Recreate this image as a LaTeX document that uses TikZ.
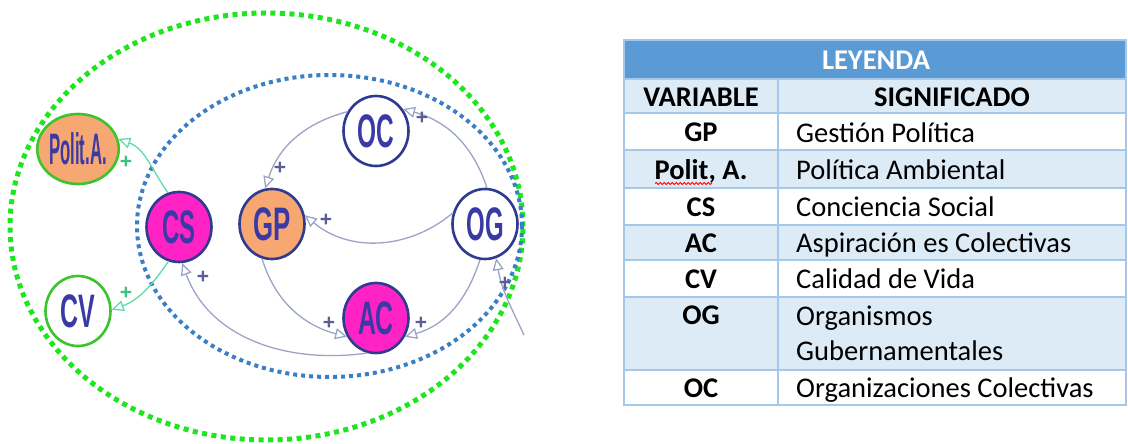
\documentclass[tikz,border=0pt]{standalone}
\usepackage{fontspec}
\setmainfont{Carlito}
\newfontfamily\nodefont{Liberation Sans}
\usetikzlibrary{shapes.geometric,arrows.meta,decorations.pathmorphing}
\definecolor{nodeblue}{HTML}{2E3B8E}
\definecolor{txtblue}{HTML}{3A3AA5}
\definecolor{magentafill}{HTML}{FF22C4}
\definecolor{orangefill}{HTML}{F7A872}
\definecolor{grnborder}{HTML}{3CC42C}
\definecolor{arrowgray}{HTML}{9CA3C6}
\definecolor{mint}{HTML}{5EDCA8}
\definecolor{dotgreen}{HTML}{1EE61E}
\definecolor{dotblue}{HTML}{3A7EC6}
\definecolor{hdrblue}{HTML}{5B9BD5}
\definecolor{rowblue}{HTML}{DDEBF7}
\definecolor{gridblue}{HTML}{A5C8EA}
\definecolor{plusc}{HTML}{5A5E95}
\definecolor{plusg}{HTML}{3DBF80}
\newcommand\condtxt[2]{\scalebox{#1}[1]{#2}}
\begin{document}
\begin{tikzpicture}[x=1pt,y=1pt,
  var/.style={ellipse, minimum width=65pt, minimum height=70pt, inner sep=0pt,
    line width=2.6pt, draw=nodeblue, text=txtblue,
    font=\nodefont\bfseries\fontsize{47}{47}\selectfont},
  gvar/.style={var, draw=grnborder},
  arr/.style={draw=arrowgray, line width=1.3pt, -{Triangle[open,length=12pt,width=11pt]}},
  garr/.style={draw=mint, line width=1.3pt, -{Triangle[open,length=12pt,width=11pt]}},
  plus/.style={text=plusc, font=\nodefont\bfseries\fontsize{21}{21}\selectfont, inner sep=0pt},
  gplus/.style={plus, text=plusg},
  vtxt/.style={anchor=base, inner sep=0pt, font=\bfseries\fontsize{28.5}{34.5}\selectfont},
  stxt/.style={anchor=base west, inner sep=0pt, font=\fontsize{28.5}{34.5}\selectfont},
  grid/.style={draw=gridblue, line width=1.5pt}
]
\useasboundingbox (0,0) rectangle (1128,444);

% dotted ellipses
\draw[dotgreen, line width=5pt, dash pattern=on 5pt off 4.5pt] (266.5,217.5) ellipse[x radius=256.5, y radius=213.5];
\draw[dotblue, line width=4pt, dash pattern=on 4pt off 4pt] (329.5,218) ellipse[x radius=192.5, y radius=151];

% variable nodes
\node[gvar, fill=orangefill, font=\nodefont\bfseries\fontsize{44}{44}\selectfont] (PA) at (78,295) {\condtxt{0.38}{Polit.A.}};
\node[gvar, fill=white] (CV) at (78,133) {\condtxt{0.53}{CV}};
\node[var, fill=magentafill] (CS) at (179,217) {\condtxt{0.51}{CS}};
\node[var, fill=orangefill] (GP) at (272,220) {\condtxt{0.55}{GP}};
\node[var, fill=white] (OC) at (376,313) {\condtxt{0.52}{OC}};
\node[var, fill=white] (OG) at (485,220) {\condtxt{0.51}{OG}};
\node[var, fill=magentafill] (AC) at (376,126) {\condtxt{0.53}{AC}};

% connectors
\draw[arr] (OG.87) to[out=108,in=-15] (OC.39);
\draw[arr] (OC.146) to[out=195,in=72] (GP.101);
\draw[arr] (GP.254) to[out=287,in=165] (AC.213);
\draw[arr] (OG.262) to[out=252,in=16] (AC.327);
\draw[arr] (OG.161) to[out=220,in=-40] (GP.15);
\draw[arr] (AC.256) to[out=188,in=-70] (CS.275);
\coordinate (ext) at (524,109);
\draw[arr] (ext) to[out=115,in=-80] (OG.288);
\draw[garr] (CS.108) to[out=125,in=-20] (PA.14);
\draw[garr] (CS.253) to[out=235,in=20] (CV.2);

% plus labels
\node[gplus] (p1) at (126,282) {+};
\node[gplus] (p2) at (126,151) {+};
\node[plus] (p3) at (203,167) {+};
\node[plus] (p4) at (280,276) {+};
\node[plus] (p5) at (422,326) {+};
\node[plus] (p6) at (326,224) {+};
\node[plus] (p7) at (329,121) {+};
\node[plus] (p8) at (421,121) {+};
\node[plus] (p9) at (505,161) {+};

% table fills
\fill[hdrblue] (624,365) rectangle (1126,404);
\fill[rowblue] (624,331) rectangle (1126,365);
\fill[rowblue] (624,256) rectangle (1126,294);
\fill[rowblue] (624,184) rectangle (1126,219);
\fill[rowblue] (624,74) rectangle (1126,147);
% grid
\foreach \yy in {365,331,294,256,219,184,147,74} \draw[grid] (624,\yy) -- (1126,\yy);
\draw[grid] (778,365) -- (778,39);
\draw[grid] (624,39) rectangle (1126,404);

% table text
\node[vtxt, text=white] (hd) at (876,374.5) {LEYENDA};
\node[vtxt] (h1) at (701,337.5) {VARIABLE};
\node[vtxt] (h2) at (952,337.5) {SIGNIFICADO};
\node[vtxt] (v1) at (701,302) {GP};
\node[stxt] (s1) at (796,301) {Gestión Política};
\node[vtxt] (v2) at (701,264.5) {Polit, A.};
\node[stxt] (s2) at (796,264.5) {Política Ambiental};
\node[vtxt] (v3) at (701,227) {CS};
\node[stxt] (s3) at (796,227) {Conciencia Social};
\node[vtxt] (v4) at (701,191) {AC};
\node[stxt] (s4) at (796,191) {Aspiración es Colectivas};
\node[vtxt] (v5) at (701,155) {CV};
\node[stxt] (s5) at (796,155) {Calidad de Vida};
\node[vtxt] (v6) at (701,119) {OG};
\node[stxt] (s6) at (796,118) {Organismos};
\node[stxt] (s6b) at (796,83) {Gubernamentales};
\node[vtxt] (v7) at (701,46) {OC};
\node[stxt] (s7) at (796,46) {Organizaciones Colectivas};
% spell-check underline
\draw[red, line width=0.9pt, decorate, decoration={snake, amplitude=1pt, segment length=4pt}] (655,260.5) -- (712,260.5);
\end{tikzpicture}
\end{document}
